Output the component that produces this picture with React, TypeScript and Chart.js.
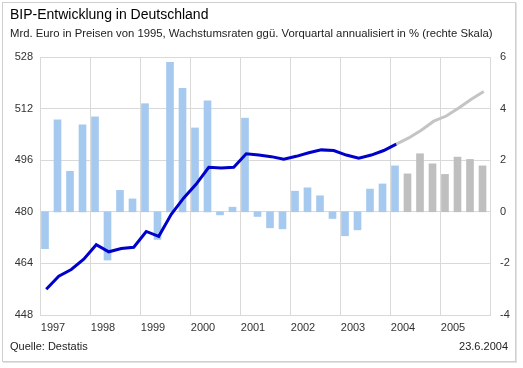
import React, { useEffect, useRef } from 'react';
import { Chart, registerables } from 'chart.js';

Chart.register(...registerables);

const yearLabels = ['1997', '1998', '1999', '2000', '2001', '2002', '2003', '2004', '2005'];

// Wachstumsraten ggü. Vorquartal annualisiert in % (rechte Skala)
const growthActual = [
  -1.43, 3.56, 1.57, 3.37,
  3.68, -1.87, 0.83, 0.5,
  4.19, -1.07, 5.79, 4.79,
  3.25, 4.3, -0.12, 0.18,
  3.63, -0.18, -0.62, -0.66,
  0.8, 0.93, 0.62, -0.26,
  -0.93, -0.7, 0.88, 1.08,
  1.78,
];
const growthForecast = [1.47, 2.25, 1.86, 1.45, 2.12, 2.03, 1.78];

// Mrd. Euro in Preisen von 1995 (linke Skala)
const gdpActual = [
  456.0, 460.0, 462.1, 465.3,
  469.8, 467.6, 468.6, 469.0,
  473.9, 472.4, 479.2, 484.3,
  488.6, 493.8, 493.6, 493.8,
  498.0, 497.6, 497.1, 496.3,
  497.2, 498.3, 499.2, 499.0,
  497.6, 496.6, 497.6, 499.0,
  501.0,
];
const gdpForecast = [501.0, 502.9, 505.3, 508.1, 509.7, 512.2, 514.9, 517.3];

const leftMin = 448;
const leftMax = 528;
const leftStep = 16;
const rightMin = -4;
const rightMax = 6;
const rightStep = 2;

const FONT = '"Liberation Sans", Arial, sans-serif';

export default function App() {
  const ref = useRef<HTMLCanvasElement>(null);

  useEffect(() => {
    document.body.style.margin = '0';
    const canvas = ref.current;
    if (!canvas) return;
    const nQuarters = yearLabels.length * 4;
    const gridColor = '#d9d9d9';
    const chart = new Chart(canvas, {
      type: 'bar',
      data: {
        datasets: [
          {
            type: 'line',
            data: gdpActual.map((v, i) => ({ x: i + 0.5, y: v })),
            borderColor: '#0000cc',
            borderWidth: 3,
            pointRadius: 0,
            tension: 0,
            yAxisID: 'yL',
            xAxisID: 'x',
          },
          {
            type: 'line',
            data: gdpForecast.map((v, i) => ({ x: i + gdpActual.length - 1 + 0.5, y: v })),
            borderColor: '#c4c4c4',
            borderWidth: 3,
            pointRadius: 0,
            tension: 0,
            yAxisID: 'yL',
            xAxisID: 'x',
          },
          {
            type: 'bar',
            data: growthActual.map((v, i) => ({ x: i + 0.4, y: v })),
            backgroundColor: '#a6c9ef',
            barThickness: 7,
            grouped: false,
            yAxisID: 'yR',
            xAxisID: 'x',
          },
          {
            type: 'bar',
            data: growthForecast.map((v, i) => ({ x: i + growthActual.length + 0.4, y: v })),
            backgroundColor: '#bfbfbf',
            barThickness: 7,
            grouped: false,
            yAxisID: 'yR',
            xAxisID: 'x',
          },
        ] as any,
      },
      options: {
        responsive: false,
        animation: false,
        layout: { padding: { top: 57, left: 0, right: 0, bottom: 0 } },
        plugins: { legend: { display: false }, tooltip: { enabled: false }, title: { display: false } },
        scales: {
          x: {
            type: 'linear',
            position: 'bottom',
            min: 0,
            max: nQuarters,
            offset: false,
            grid: { color: gridColor, drawTicks: false, offset: false },
            border: { display: true, color: gridColor },
            ticks: {
              stepSize: 4,
              autoSkip: false,
              maxRotation: 0,
              labelOffset: 13,
              padding: 6,
              color: '#333',
              font: { family: FONT, size: 11 },
              callback: (v: any) => {
                const idx = Math.round(Number(v) / 4);
                return idx < yearLabels.length ? yearLabels[idx] : '';
              },
            },
            afterFit: (s: any) => {
              s.height = 53;
            },
          },
          yL: {
            type: 'linear',
            position: 'left',
            min: leftMin,
            max: leftMax,
            grid: { color: gridColor, drawTicks: false },
            border: { display: true, color: gridColor },
            ticks: {
              stepSize: leftStep,
              padding: 7,
              color: '#333',
              font: { family: FONT, size: 11 },
            },
            afterFit: (s: any) => {
              s.width = 40;
            },
          },
          yR: {
            type: 'linear',
            position: 'right',
            min: rightMin,
            max: rightMax,
            grid: { display: false, drawTicks: false },
            border: { display: true, color: gridColor },
            ticks: {
              stepSize: rightStep,
              padding: 10,
              color: '#333',
              font: { family: FONT, size: 11 },
            },
            afterFit: (s: any) => {
              s.width = 33;
            },
          },
        },
      } as any,
    });
    return () => chart.destroy();
  }, []);

  return (
    <div style={{ position: 'absolute', left: 0, top: 0, width: 523, height: 368, background: '#fff', fontFamily: FONT }}>
      <div
        style={{
          position: 'absolute',
          left: 2,
          top: 2,
          width: 512,
          height: 358,
          border: '1px solid #cfcfcf',
          boxShadow: '1px 1px 0 #e2e2e2',
        }}
      />
      <canvas ref={ref} width={523} height={368} style={{ position: 'absolute', left: 0, top: 0 }} />
      <div style={{ position: 'absolute', left: 10, top: 6, fontSize: 14, lineHeight: '16px', color: '#000', whiteSpace: 'nowrap' }}>
        BIP-Entwicklung in Deutschland
      </div>
      <div style={{ position: 'absolute', left: 10, top: 27, fontSize: 11.3, lineHeight: '13px', color: '#222', whiteSpace: 'nowrap' }}>
        Mrd. Euro in Preisen von 1995, Wachstumsraten ggü. Vorquartal annualisiert in % (rechte Skala)
      </div>
      <div style={{ position: 'absolute', left: 10, top: 340, fontSize: 11, lineHeight: '13px', color: '#222', whiteSpace: 'nowrap' }}>
        Quelle: Destatis
      </div>
      <div style={{ position: 'absolute', right: 15, top: 340, fontSize: 11, lineHeight: '13px', color: '#222', whiteSpace: 'nowrap' }}>
        23.6.2004
      </div>
    </div>
  );
}
